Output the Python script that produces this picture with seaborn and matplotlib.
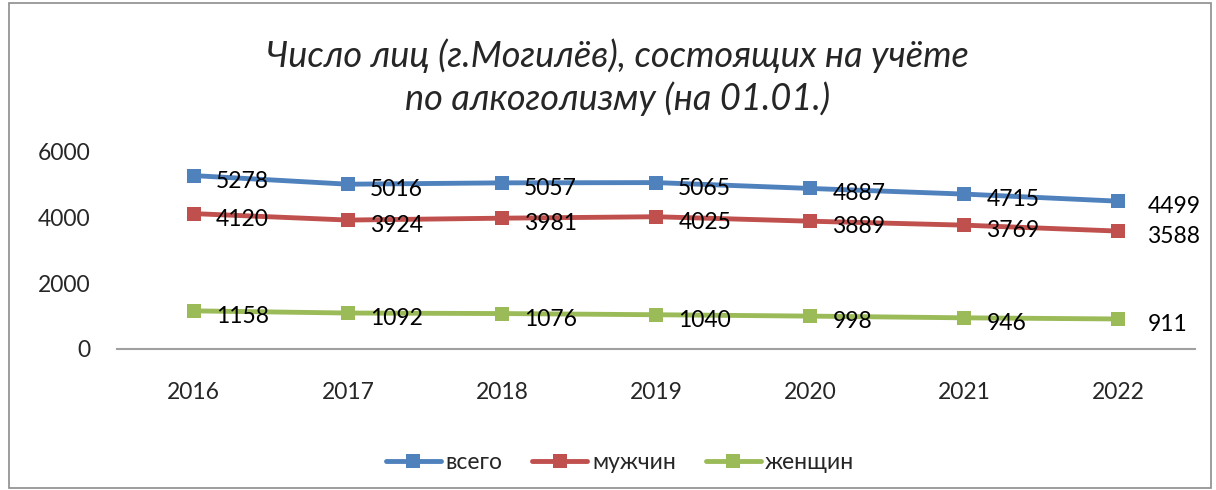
import pandas as pd
import numpy as np
import matplotlib.pyplot as plt
import seaborn as sns
from matplotlib.patches import Rectangle

# data
years = ["2016", "2017", "2018", "2019", "2020", "2021", "2022"]
total = [5278, 5016, 5057, 5065, 4887, 4715, 4499]
men = [4120, 3924, 3981, 4025, 3889, 3769, 3588]
women = [1158, 1092, 1076, 1040, 998, 946, 911]
series_names = ["всего", "мужчин", "женщин"]
colors = ["#4F81BD", "#C0504D", "#9BBB59"]

df = pd.DataFrame({
    "year": years * 3,
    "value": total + men + women,
    "series": np.repeat(series_names, len(years)),
})

sns.set_style("white")
plt.rcParams["font.family"] = ["Lato", "DejaVu Sans"]
fs = 16.5

fig = plt.figure(figsize=(12.16, 4.9), dpi=100)
ax = fig.add_axes([0.096, 0.288, 0.887, 0.402])

sns.lineplot(data=df, x="year", y="value", hue="series", palette=colors,
             marker="s", markersize=10, markeredgewidth=0, linewidth=3.5,
             sort=False, ax=ax, legend=True)

# value labels to the right of each point
for name, vals in zip(series_names, [total, men, women]):
    for i, v in enumerate(vals):
        dx = 16 if i < len(vals) - 1 else 21
        ax.annotate(str(v), (i, v), xytext=(dx, -4), textcoords="offset points",
                    ha="left", va="center", fontsize=fs, color="black")

ax.set_xlim(-0.5, 6.5)
ax.set_ylim(0, 6000)
ax.set_yticks([0, 2000, 4000, 6000])
ax.set_xlabel("")
ax.set_ylabel("")
ax.tick_params(axis="y", length=0, pad=19, labelsize=fs)
ax.tick_params(axis="x", length=0, pad=24, labelsize=fs)
for s in ["top", "right", "left"]:
    ax.spines[s].set_visible(False)
ax.spines["bottom"].set_color("#A0A0A0")
ax.spines["bottom"].set_linewidth(1.5)
ax.patch.set_alpha(0)

handles, labels = ax.get_legend_handles_labels()
ax.legend_.remove()
fig.legend(handles, labels, loc="center", bbox_to_anchor=(0.51, 0.057), ncol=3,
           frameon=False, fontsize=fs, handlelength=2.4, columnspacing=1.3,
           handletextpad=0.2)

fig.text(0.508, 0.843, "Число лиц (г.Могилёв), состоящих на учёте\nпо алкоголизму (на 01.01.)",
         ha="center", va="center", fontsize=26, style="italic", linespacing=1.3)

fig.patches.append(Rectangle((0.007, 0.004), 0.989, 0.99, transform=fig.transFigure,
                             fill=False, edgecolor="#8C8C8C", linewidth=1.2))

fig.savefig("out.png", dpi=100)
